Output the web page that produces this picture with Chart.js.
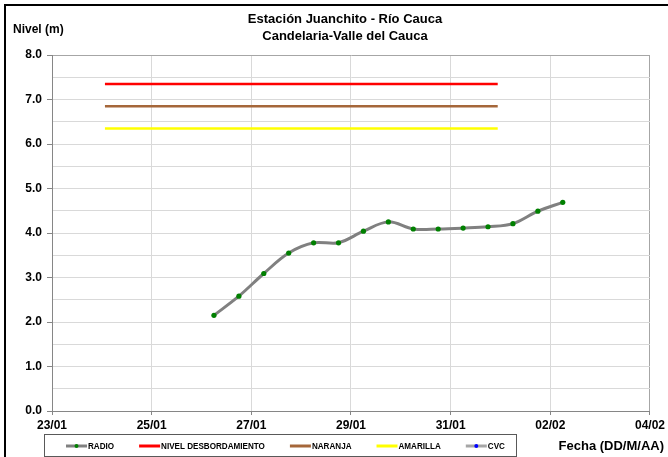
<!DOCTYPE html>
<html>
<head>
<meta charset="utf-8">
<script src="https://cdn.jsdelivr.net/npm/chart.js@4"></script>
<style>
  html, body { margin: 0; padding: 0; background: #fff; }
  canvas { display: block; }
</style>
</head>
<body>
<canvas id="nivelChart" width="668" height="457"></canvas>
<script>
// Data
const titleLines = ["Estación Juanchito - Río Cauca", "Candelaria-Valle del Cauca"];
const xTickLabels = ["23/01", "25/01", "27/01", "29/01", "31/01", "02/02", "04/02"];

const radioTimes = [
  "26/01 06:00", "26/01 18:00", "27/01 06:00", "27/01 18:00", "28/01 06:00",
  "28/01 18:00", "29/01 06:00", "29/01 18:00", "30/01 06:00", "30/01 18:00",
  "31/01 06:00", "31/01 18:00", "01/02 06:00", "01/02 18:00", "02/02 06:00",
];
const radioValues = [2.15, 2.58, 3.09, 3.55, 3.78, 3.78, 4.04, 4.25, 4.09, 4.09, 4.11, 4.14, 4.21, 4.49, 4.69];

const thresholdTimes = ["24/01 01:30", "31/01 22:40"];
const desbordamiento = 7.35;
const naranja = 6.85;
const amarilla = 6.35;

const cvcTimes = [];
const cvcValues = [];

// days since 23/01 00:00
const BASE = Date.UTC(2001, 0, 23);
function dayOffset(s) {
  const [d, t] = s.split(" ");
  const [dd, mm] = d.split("/").map(Number);
  const [hh, mi] = t.split(":").map(Number);
  return (Date.UTC(2001, mm - 1, dd, hh, mi) - BASE) / 86400000;
}
const toPoints = (times, values) => times.map((t, i) => ({ x: dayOffset(t), y: values[i] }));
const flat = (v) => thresholdTimes.map((t) => ({ x: dayOffset(t), y: v }));

const FONT = "'Liberation Sans', Arial, sans-serif";

const legendItems = [
  { label: "RADIO", color: "#808080", dot: "#008000" },
  { label: "NIVEL DESBORDAMIENTO", color: "#ff0000" },
  { label: "NARANJA", color: "#a5673a" },
  { label: "AMARILLA", color: "#ffff00" },
  { label: "CVC", color: "#a6a6a6", dot: "#0000ff" },
];

const decorPlugin = {
  id: "decor",
  afterDraw(chart) {
    const ctx = chart.ctx;
    ctx.save();
    // outer frame
    ctx.strokeStyle = "#000";
    ctx.lineWidth = 2;
    ctx.beginPath();
    ctx.moveTo(5, 457);
    ctx.lineTo(5, 5);
    ctx.lineTo(668, 5);
    ctx.stroke();

    ctx.fillStyle = "#000";
    ctx.textBaseline = "middle";
    // title (centred a bit right of the canvas centre, like the reference)
    ctx.font = "bold 13px " + FONT;
    ctx.textAlign = "center";
    ctx.fillText(titleLines[0], 345, 19);
    ctx.fillText(titleLines[1], 345, 36);

    ctx.font = "bold 12px " + FONT;
    ctx.textAlign = "left";
    ctx.fillText("Nivel (m)", 13, 30);
    ctx.font = "bold 13px " + FONT;
    ctx.textAlign = "right";
    ctx.fillText("Fecha (DD/M/AA)", 664, 446);

    // legend box
    ctx.strokeStyle = "#595959";
    ctx.lineWidth = 1;
    ctx.strokeRect(44.5, 434.5, 472, 22);
    ctx.font = "bold 9px " + FONT;
    ctx.textAlign = "left";
    const squeeze = 0.9;
    let x = 66;
    const y = 446;
    legendItems.forEach((it) => {
      ctx.strokeStyle = it.color;
      ctx.lineWidth = 3;
      ctx.beginPath();
      ctx.moveTo(x, y);
      ctx.lineTo(x + 21, y);
      ctx.stroke();
      if (it.dot) {
        ctx.fillStyle = it.dot;
        ctx.beginPath();
        ctx.arc(x + 10.5, y, 2, 0, Math.PI * 2);
        ctx.fill();
      }
      ctx.fillStyle = "#000";
      ctx.save();
      ctx.translate(x + 22, y + 0.5);
      ctx.scale(squeeze, 1);
      ctx.fillText(it.label, 0, 0);
      ctx.restore();
      x += 22 + ctx.measureText(it.label).width * squeeze + 25;
    });
    ctx.restore();
  },
};

const ctx = document.getElementById("nivelChart").getContext("2d");
window.nivelChart = new Chart(ctx, {
  type: "line",
  data: {
    datasets: [
      {
        label: "RADIO",
        data: toPoints(radioTimes, radioValues),
        borderColor: "#808080",
        borderWidth: 3,
        tension: 0.35,
        pointRadius: 2.6,
        pointBorderWidth: 0,
        pointBackgroundColor: "#008000",
      },
      {
        label: "NIVEL DESBORDAMIENTO",
        data: flat(desbordamiento),
        borderColor: "#ff0000",
        borderWidth: 2.5,
        pointRadius: 0,
      },
      {
        label: "NARANJA",
        data: flat(naranja),
        borderColor: "#a5673a",
        borderWidth: 2.5,
        pointRadius: 0,
      },
      {
        label: "AMARILLA",
        data: flat(amarilla),
        borderColor: "#ffff00",
        borderWidth: 2.5,
        pointRadius: 0,
      },
      {
        label: "CVC",
        data: toPoints(cvcTimes, cvcValues),
        borderColor: "#a6a6a6",
        pointBackgroundColor: "#0000ff",
      },
    ],
  },
  options: {
    responsive: false,
    animation: false,
    layout: { padding: { left: 0, right: 18, top: 55, bottom: 0 } },
    plugins: {
      legend: { display: false },
      tooltip: { enabled: false },
      title: { display: false },
    },
    scales: {
      x: {
        type: "linear",
        min: 0,
        max: 12,
        afterFit: (scale) => { scale.height = 46; },
        afterBuildTicks: (scale) => {
          scale.ticks = xTickLabels.map((_, i) => ({ value: i * 2 }));
        },
        ticks: {
          autoSkip: false,
          maxRotation: 0,
          padding: 3,
          color: "#000",
          font: { family: FONT, size: 12, weight: "bold" },
          callback: (v) => xTickLabels[v / 2],
        },
        grid: {
          color: (c) => (c.tick && c.tick.value === 12 ? "#a6a6a6" : "#d9d9d9"),
          tickColor: "#868686",
          tickLength: 4,
        },
        border: { color: "#868686", width: 1 },
      },
      y: {
        min: 0,
        max: 8,
        afterFit: (scale) => { scale.width = 52; },
        ticks: {
          stepSize: 0.5,
          autoSkip: false,
          padding: 5,
          color: "#000",
          font: { family: FONT, size: 12, weight: "bold" },
          callback: (v) => (Number.isInteger(v) ? v.toFixed(1) : ""),
        },
        grid: {
          color: (c) => (c.tick && c.tick.value === 8 ? "#a6a6a6" : "#d9d9d9"),
          tickColor: (c) => (c.tick && Number.isInteger(c.tick.value) ? "#868686" : "rgba(0,0,0,0)"),
          tickLength: 5,
        },
        border: { color: "#868686", width: 1 },
      },
    },
  },
  plugins: [decorPlugin],
});
</script>
</body>
</html>
